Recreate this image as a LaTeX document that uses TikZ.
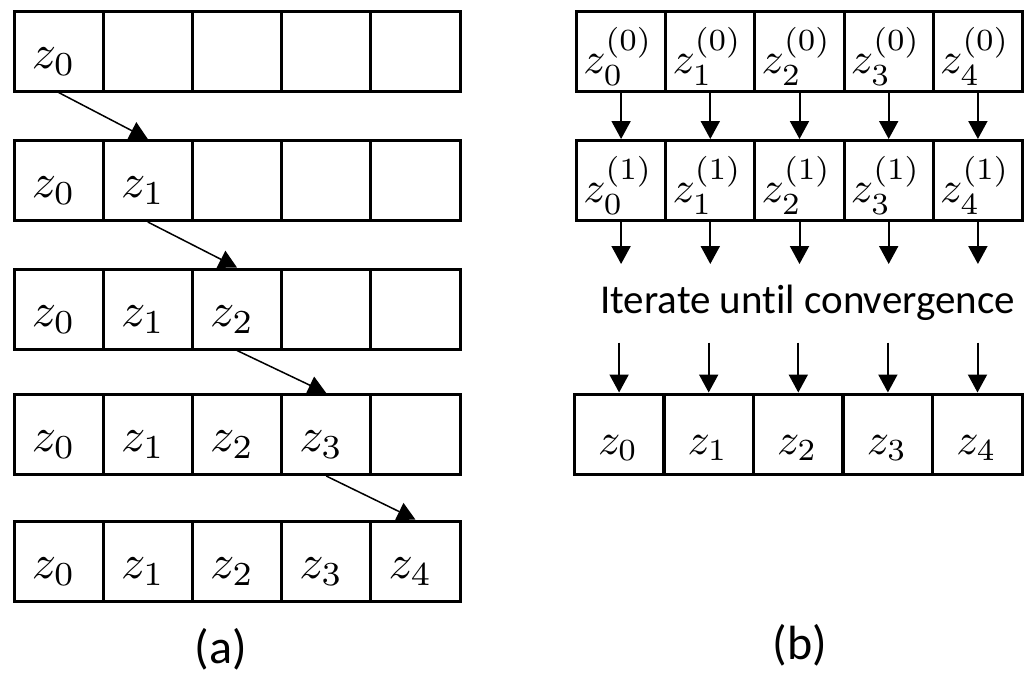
\documentclass[tikz,border=0pt]{standalone}
\usepackage{graphicx}
\usepackage{fontspec}
\setsansfont{Carlito}[Ligatures=NoCommon]
\usetikzlibrary{arrows.meta,calc}
\begin{document}
\begin{tikzpicture}[x=1pt,y=-1pt,
  cell/.style={draw, line width=3pt, minimum width=89.2pt, minimum height=80pt, inner sep=0pt, fill=white},
  ltxt/.style={inner sep=0pt},
  lab/.style={inner sep=0pt, anchor=base, font=\sffamily\fontsize{48}{56}\selectfont},
  varrow/.style={line width=2pt, -{Triangle[length=18pt,width=19pt]}},
  larrow/.style={line width=1.5pt, -{Triangle[length=18pt,width=19pt]}}]
\useasboundingbox (0,0) rectangle (1034,683);
% ---- panel (a)
\foreach \r/\yc in {1/51,2/180.5,3/309,4/434.5,5/561} {
  \foreach \c in {1,...,5} {
    \node[cell] (a\r\c) at ({58.6+(\c-1)*89.2},\yc) {};
  }
}
\foreach \r in {1,...,5} {
  \foreach \c in {1,...,\r} {
    \pgfmathtruncatemacro\k{\c-1}
    \node[ltxt, anchor=base west] (ta\r\c) at ($(a\r\c.center)+(-27,17)$) {\scalebox{4.8}{$z_{\k}$}};
  }
}
\foreach \r in {1,...,4} {
  \pgfmathtruncatemacro\n{\r+1}
  \draw[larrow] (a\r\r.south) -- (a\n\n.north);
}
% ---- panel (b)
\foreach \r/\yc in {1/51.5,2/180.5} {
  \foreach \c in {1,...,5} {
    \node[cell] (b\r\c) at ({621.1+(\c-1)*89.2},\yc) {};
    \pgfmathtruncatemacro\k{\c-1}
    \pgfmathtruncatemacro\s{\r-1}
    \node[ltxt, anchor=base west] (tb\r\c) at ($(b\r\c.center)+(-38,22)$) {\scalebox{4.4}{$z_{\k}^{(\s)}$}};
  }
}
\foreach \c in {1,...,5} {
  \node[cell] (f\c) at ({619.1+(\c-1)*89.6},434) {};
  \pgfmathtruncatemacro\k{\c-1}
  \node[ltxt, anchor=base] (tf\c) at ($(f\c.center)+(-1,20)$) {\scalebox{4.4}{$z_{\k}$}};
  \draw[varrow] (b1\c.south) -- (b2\c.north);
  \coordinate (e\c) at ($(b2\c.south)+(0,42)$);
  \draw[varrow] (b2\c.south) -- (e\c);
  \coordinate (s\c) at ($(f\c.north)+(0,-50)$);
  \draw[varrow] (s\c) -- (f\c.north);
}
\node[inner sep=0pt, anchor=base, font=\sffamily\fontsize{41}{48}\selectfont] (iter) at (807.5,313) {Iterate until convergence};
\node[lab] (la) at (221,663) {(a)};
\node[lab] (lb) at (800,659) {(b)};
\end{tikzpicture}
\end{document}
